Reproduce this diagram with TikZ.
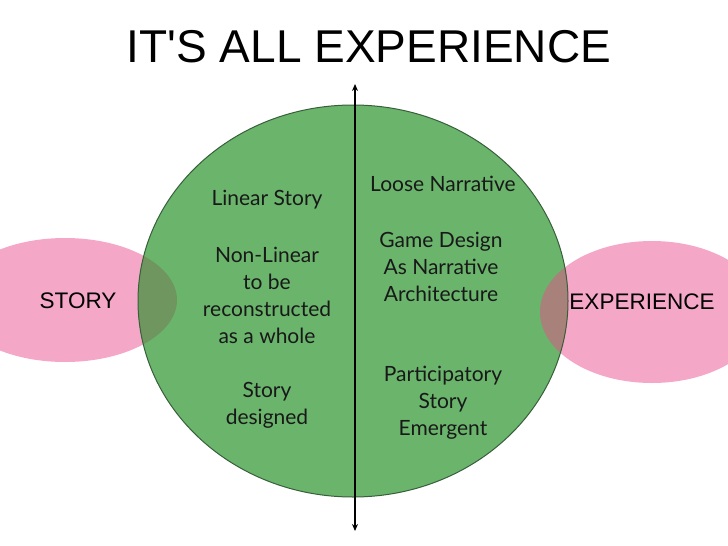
\documentclass[tikz,border=0pt]{standalone}
\usepackage{fontspec}
\setmainfont{Lato}
\newfontfamily\arialf{Liberation Sans}
\usetikzlibrary{arrows.meta}
\definecolor{cgreen}{RGB}{106,180,108}
\definecolor{cpink}{RGB}{245,167,200}
\definecolor{cleft}{RGB}{112,150,95}
\definecolor{cright}{RGB}{168,130,122}
\definecolor{cborder}{RGB}{55,95,58}
\tikzset{
  coltext/.style={align=center, font=\fontsize{21}{27}\selectfont, text=black!90, inner sep=0pt},
  sidelabel/.style={font=\arialf\fontsize{22.5}{25}\selectfont, inner sep=0pt},
}
\begin{document}
\begin{tikzpicture}[x=1pt,y=-1pt]
\useasboundingbox (0,0) rectangle (728,546);
% pink ellipses
\fill[cpink] (65,300) ellipse [x radius=112, y radius=62];
\fill[cpink] (652,312) ellipse [x radius=112, y radius=71];
% green circle
\fill[cgreen] (353,301) ellipse [x radius=215, y radius=196];
% overlaps
\begin{scope}
  \clip (353,301) ellipse [x radius=215, y radius=196];
  \fill[cleft] (65,300) ellipse [x radius=112, y radius=62];
  \fill[cright] (652,312) ellipse [x radius=112, y radius=71];
\end{scope}
\draw[cborder, line width=1pt] (353,301) ellipse [x radius=215, y radius=196];
% axis
\coordinate (top) at (355,84);
\coordinate (bot) at (355,531);
\draw[line width=1.8pt, {Stealth[length=7pt,width=6pt]}-{Stealth[length=7pt,width=6pt]}] (top) -- (bot);
% title
\node[font=\arialf\fontsize{46}{50}\selectfont, inner sep=0pt] (title) at (369,47) {IT'S ALL EXPERIENCE};
% side labels
\node[sidelabel] (story) at (78,301) {STORY};
\node[sidelabel] (exp) at (642,302) {EXPERIENCE};
% left column
\node[coltext] (l1) at (267,200) {Linear Story};
\node[coltext] (l2) at (267,295) {Non-Linear\\to be\\reconstructed\\as a whole};
\node[coltext] (l3) at (267,405) {Story\\designed};
% right column
\node[coltext] (r1) at (443,184) {Loose Narrative};
\node[coltext] (r2) at (441,267) {Game Design\\As Narrative\\Architecture};
\node[coltext] (r3) at (443,403) {Participatory\\Story\\Emergent};
\end{tikzpicture}
\end{document}
